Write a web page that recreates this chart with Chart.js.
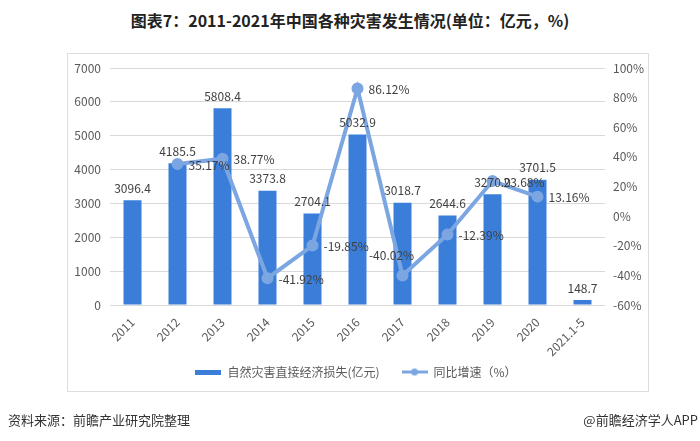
<!DOCTYPE html>
<html><head><meta charset="utf-8">
<script src="https://cdn.jsdelivr.net/npm/chart.js@4"></script>
<style>
body{margin:0;width:700px;height:441px;background:#fff;position:relative;overflow:hidden;font-family:"Noto Sans CJK SC",sans-serif;}
#title{position:absolute;top:8px;left:0;width:700px;text-align:center;font-weight:bold;font-size:16px;color:#222;line-height:24px;}
#frame{position:absolute;left:67px;top:53px;width:580px;height:337px;border:1px solid #dedede;}
#c{position:absolute;left:0;top:0;}
.foot{position:absolute;top:411px;font-size:13px;color:#333;line-height:18px;}
</style></head>
<body>
<div id="title">图表7：2011-2021年中国各种灾害发生情况(单位：亿元，%)</div>
<div id="frame"></div>
<canvas id="c" width="700" height="441"></canvas>
<div class="foot" style="left:8px;">资料来源：前瞻产业研究院整理</div>
<div class="foot" style="right:2px;">@前瞻经济学人APP</div>
<script>
const categories = ['2011','2012','2013','2014','2015','2016','2017','2018','2019','2020','2021.1-5'];
const lossValues = [3096.4,4185.5,5808.4,3373.8,2704.1,5032.9,3018.7,2644.6,3270.9,3701.5,148.7];
const growthValues = [null,35.17,38.77,-41.92,-19.85,86.12,-40.02,-12.39,23.68,13.16,null];
const growthLabelPlacement = ['right','right','right','right','right','right','above','right','right','right','right'];
const leftAxis = {min:0, max:7000, step:1000};
const rightAxis = {min:-60, max:100, step:20};
const seriesNames = ['自然灾害直接经济损失(亿元)','同比增速（%）'];

const BAR_COLOR = '#3b7ed9';
const LINE_COLOR = '#7ba6e2';
const FONT = '"Noto Sans CJK SC", sans-serif';

function makeBarIcon(){
  const c=document.createElement('canvas'); c.width=26; c.height=5;
  const x=c.getContext('2d'); x.fillStyle=BAR_COLOR; x.fillRect(0,0,26,5); return c;
}
function makeLineIcon(){
  const c=document.createElement('canvas'); c.width=26; c.height=9;
  const x=c.getContext('2d'); x.strokeStyle=LINE_COLOR; x.lineWidth=3;
  x.beginPath(); x.moveTo(0,4.5); x.lineTo(26,4.5); x.stroke();
  x.fillStyle=LINE_COLOR; x.beginPath(); x.arc(13,4.5,3.5,0,Math.PI*2); x.fill(); return c;
}
const icons=[makeBarIcon(), makeLineIcon()];

const labelPlugin = {
  id:'valueLabels',
  beforeDraw(chart){
    // let the rotated category labels extend below the axis box without being clipped
    chart.scales.x._computeLabelArea = () => null;
  },
  afterDatasetsDraw(chart){
    const ctx=chart.ctx;
    ctx.save();
    ctx.font='12px '+FONT;
    ctx.fillStyle='#404040';
    chart.getDatasetMeta(0).data.forEach((el,i)=>{
      ctx.textAlign='center'; ctx.textBaseline='bottom';
      ctx.fillText(lossValues[i].toFixed(1), el.x, el.y-6);
    });
    chart.getDatasetMeta(1).data.forEach((el,i)=>{
      const v=growthValues[i]; if(v==null) return;
      const t=v.toFixed(2)+'%';
      if(growthLabelPlacement[i]==='above'){
        ctx.textAlign='center'; ctx.textBaseline='middle';
        ctx.fillText(t, el.x-11, el.y-20);
      } else {
        ctx.textAlign='left'; ctx.textBaseline='middle';
        ctx.fillText(t, el.x+11, el.y+1);
      }
    });
    ctx.restore();
  }
};

new Chart(document.getElementById('c'),{
  data:{
    labels:categories,
    datasets:[
      {type:'bar', label:seriesNames[0], data:lossValues, backgroundColor:BAR_COLOR, yAxisID:'y', order:2, barPercentage:0.4, categoryPercentage:1},
      {type:'line', label:seriesNames[1], data:growthValues, borderColor:LINE_COLOR, backgroundColor:LINE_COLOR, borderWidth:4, pointRadius:4, pointBackgroundColor:LINE_COLOR, pointBorderColor:LINE_COLOR, tension:0, yAxisID:'y1', order:1}
    ]
  },
  options:{
    responsive:false, animation:false, devicePixelRatio:1,
    layout:{padding:{left:12,right:0,top:68,bottom:53}},
    plugins:{
      tooltip:{enabled:false},
      legend:{
        position:'bottom',
        labels:{
          usePointStyle:true, pointStyleWidth:26, padding:22,
          font:{size:12, family:FONT}, color:'#595959',
          generateLabels(){
            return seriesNames.map((n,i)=>({text:n, pointStyle:icons[i], fillStyle:i?LINE_COLOR:BAR_COLOR, strokeStyle:'transparent', lineWidth:0, datasetIndex:i, hidden:false, fontColor:'#595959'}));
          }
        }
      }
    },
    scales:{
      x:{
        grid:{display:false}, border:{display:false},
        ticks:{maxRotation:45, minRotation:45, color:'#595959', font:{size:12, family:FONT}, padding:2},
        afterFit(s){s.height=39;}
      },
      y:{
        position:'left', min:leftAxis.min, max:leftAxis.max,
        ticks:{stepSize:leftAxis.step, color:'#595959', font:{size:12, family:FONT}, padding:9, callback:v=>String(v)},
        grid:{color:'#d9d9d9', drawTicks:false}, border:{display:false},
        afterFit(s){s.width=98;}
      },
      y1:{
        position:'right', min:rightAxis.min, max:rightAxis.max,
        ticks:{stepSize:rightAxis.step, color:'#595959', font:{size:12, family:FONT}, padding:8, callback:v=>v+'%'},
        grid:{display:false, drawTicks:false}, border:{display:false},
        afterFit(s){s.width=95;}
      }
    }
  },
  plugins:[labelPlugin]
});
</script>
</body></html>
